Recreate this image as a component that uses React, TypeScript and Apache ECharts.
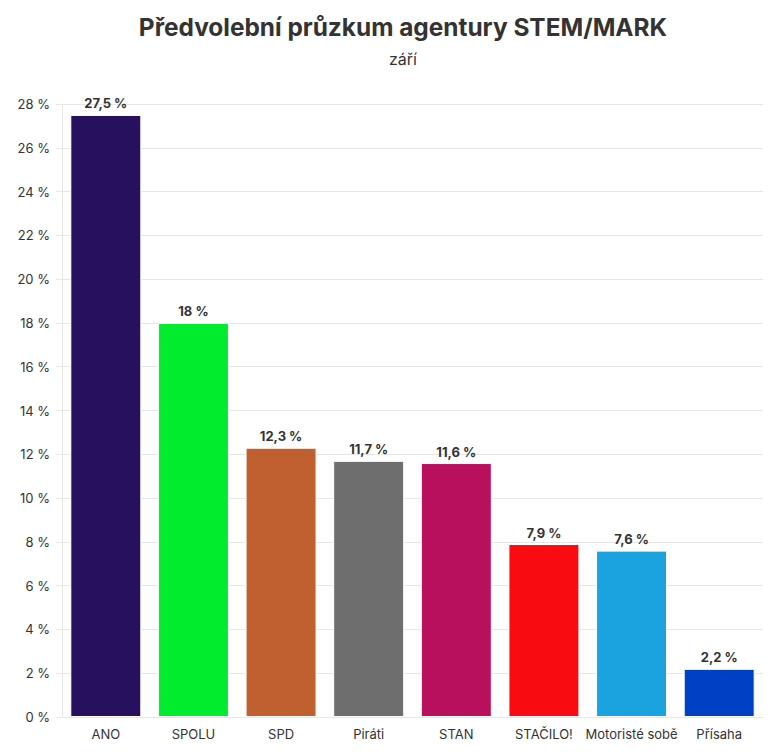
import React, { useEffect, useRef } from "react";
import * as echarts from "echarts";

const categories = ["ANO", "SPOLU", "SPD", "Piráti", "STAN", "STAČILO!", "Motoristé sobě", "Přísaha"];
const values = [27.5, 18, 12.3, 11.7, 11.6, 7.9, 7.6, 2.2];
const colors = ["#27105e", "#00ec2c", "#c06030", "#6e6e6e", "#b8105c", "#f80c12", "#1ba3e0", "#0040c4"];

const titleText = "Předvolební průzkum agentury STEM/MARK";
const subtitleText = "září";

const fmt = (v: number) => String(v).replace(".", ",") + " %";

export default function App() {
  const ref = useRef<HTMLDivElement>(null);
  useEffect(() => {
    document.body.style.margin = "0";
    const chart = echarts.init(ref.current!, null, { renderer: "svg" });
    const font = "Inter, 'Noto Sans', sans-serif";
    chart.setOption({
      animation: false,
      backgroundColor: "#ffffff",
      textStyle: { fontFamily: font },
      title: {
        text: titleText,
        subtext: subtitleText,
        left: 398,
        textAlign: "center",
        top: 10,
        padding: 5,
        itemGap: 12,
        textStyle: { fontSize: 24.4, fontWeight: "bold", color: "#333333", fontFamily: font },
        subtextStyle: { fontSize: 16, color: "#333333", fontFamily: font },
      },
      grid: { left: 62, right: 19, top: 104, bottom: 38, containLabel: false },
      xAxis: {
        type: "category",
        data: categories,
        axisLine: { lineStyle: { color: "#e6e6e6" } },
        axisTick: { alignWithLabel: true, length: 6, lineStyle: { color: "#e6e6e6" } },
        axisLabel: { fontSize: 13, color: "#333333", margin: 10, fontFamily: font, interval: 0 },
      },
      yAxis: {
        type: "value",
        min: 0,
        max: 28,
        interval: 2,
        axisLine: { show: true, lineStyle: { color: "#e6e6e6" } },
        axisTick: { show: true, length: 6, lineStyle: { color: "#e6e6e6" } },
        axisLabel: { fontSize: 13, color: "#333333", margin: 12, fontFamily: font, formatter: "{value} %" },
        splitLine: { lineStyle: { color: "#e6e6e6" } },
      },
      series: [
        {
          type: "bar",
          data: values.map((v, i) => ({ value: v, itemStyle: { color: colors[i] } })),
          barCategoryGap: "19%",
          itemStyle: { borderColor: "#ffffff", borderWidth: 1 },
          label: {
            show: true,
            position: "top",
            distance: 5,
            fontSize: 13,
            fontWeight: "bold",
            color: "#333333",
            fontFamily: font,
            formatter: (p: any) => fmt(p.value),
          },
        },
      ],
    });
    return () => chart.dispose();
  }, []);
  return <div ref={ref} style={{ width: 782, height: 755 }} />;
}
